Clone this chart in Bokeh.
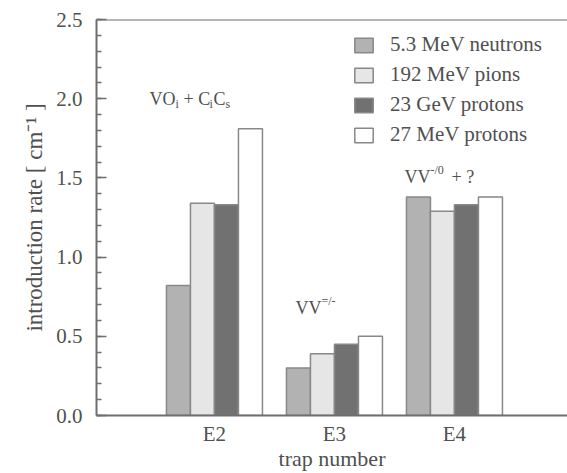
from bokeh.plotting import figure
from bokeh.models import (FixedTicker, SingleIntervalTicker, Label, Span, Range1d,
                          NumeralTickFormatter)
from bokeh.embed import file_html
from bokeh.resources import INLINE

# ---- data ----
traps = ["E2", "E3", "E4"]
trap_pos = [2, 3, 4]
series_names = ["5.3 MeV neutrons", "192 MeV pions", "23 GeV protons", "27 MeV protons"]
neutrons_53MeV = [0.82, 0.30, 1.38]
pions_192MeV = [1.34, 0.39, 1.29]
protons_23GeV = [1.33, 0.45, 1.33]
protons_27MeV = [1.81, 0.50, 1.38]
series_values = [neutrons_53MeV, pions_192MeV, protons_23GeV, protons_27MeV]

# ---- style ----
FONT = "Liberation Serif"
TXT = "#505050"
AX = "#6e6e6e"
fills = ["#b2b2b2", "#e6e6e6", "#717171", "#ffffff"]
offsets = [-0.3, -0.1, 0.1, 0.3]
bar_w = 0.2

X0, X1 = 1.017, 4.942
p = figure(width=567, height=473, output_backend="svg", toolbar_location=None,
           x_range=Range1d(X0, X1), y_range=Range1d(0, 2.5),
           min_border_left=96, min_border_right=0, min_border_top=19, min_border_bottom=58)
p.outline_line_color = None
p.grid.visible = False
p.background_fill_color = "white"
p.border_fill_color = "white"

for name, vals, fc, off in zip(series_names, series_values, fills, offsets):
    xs = [t + off for t in trap_pos]
    p.vbar(x=xs, top=vals, bottom=0, width=bar_w, fill_color=fc,
           line_color="#888888", line_width=1.5, legend_label=name)

# x axis
p.xaxis.ticker = FixedTicker(ticks=trap_pos)
p.xaxis.major_label_overrides = {t: lab for t, lab in zip(trap_pos, traps)}
p.xaxis.axis_label = "trap number"
p.xaxis.major_label_standoff = 0
p.xaxis.axis_label_standoff = -3

# y axis
p.yaxis.ticker = SingleIntervalTicker(interval=0.5, num_minor_ticks=5)
p.yaxis.formatter = NumeralTickFormatter(format="0.0")
p.yaxis.major_tick_in = 10
p.yaxis.major_tick_out = 0
p.yaxis.minor_tick_in = 5
p.yaxis.minor_tick_out = 0
p.yaxis.axis_label = "introduction rate [ cm\u207b\u00b9 ]"
p.yaxis.major_label_standoff = 14
p.yaxis.axis_label_standoff = 6

for ax in (p.xaxis[0], p.yaxis[0]):
    ax.axis_line_color = AX
    ax.axis_line_width = 2
    ax.major_tick_line_width = 1.5
    ax.minor_tick_line_width = 1.5
    ax.major_label_text_font = FONT
    ax.major_label_text_font_size = "21px"
    ax.major_label_text_color = TXT
    ax.axis_label_text_font = FONT
    ax.axis_label_text_font_size = "22px"
    ax.axis_label_text_font_style = "normal"
    ax.axis_label_text_color = TXT
p.yaxis.axis_label_text_font_size = "23px"
p.yaxis.major_tick_line_color = AX
p.yaxis.minor_tick_line_color = AX
p.xaxis.major_tick_line_color = None
p.xaxis.minor_tick_line_color = None

# top border line
p.add_layout(Span(location=2.5, dimension="width", line_color=AX, line_width=2))

# annotations: (text, x, y, size)
def dx(px):
    return X0 + (px - 96) / 120.0

def dy(py):
    return (414.5 - py) / 158.1

annotations = [
    ("VO", dx(149), dy(99), 18), ("i", dx(175), dy(104), 12),
    ("+ C", dx(183), dy(99), 18), ("i", dx(209), dy(104), 12),
    ("C", dx(213), dy(99), 18), ("s", dx(225), dy(104), 12),
    ("VV", dx(295), dy(307), 18), ("=/-", dx(321), dy(300), 12),
    ("VV", dx(404), dy(176), 18), ("-/0", dx(430), dy(169), 12),
    ("+ ?", dx(451), dy(176), 18),
]
for txt, x, y, s in annotations:
    p.add_layout(Label(x=x, y=y, text=txt, text_font=FONT, text_font_size=f"{s}px",
                       text_color=TXT, text_align="left", text_baseline="alphabetic"))

# legend
lg = p.legend[0]
lg.location = (256, 268)
lg.border_line_color = None
lg.background_fill_alpha = 0
lg.padding = 0
lg.margin = 0
lg.spacing = 5
lg.glyph_width = 23
lg.glyph_height = 18
lg.label_height = 18
lg.label_standoff = 15
lg.label_text_font = FONT
lg.label_text_font_size = "21px"
lg.label_text_color = TXT

open("out.html", "w").write(file_html(p, INLINE))
